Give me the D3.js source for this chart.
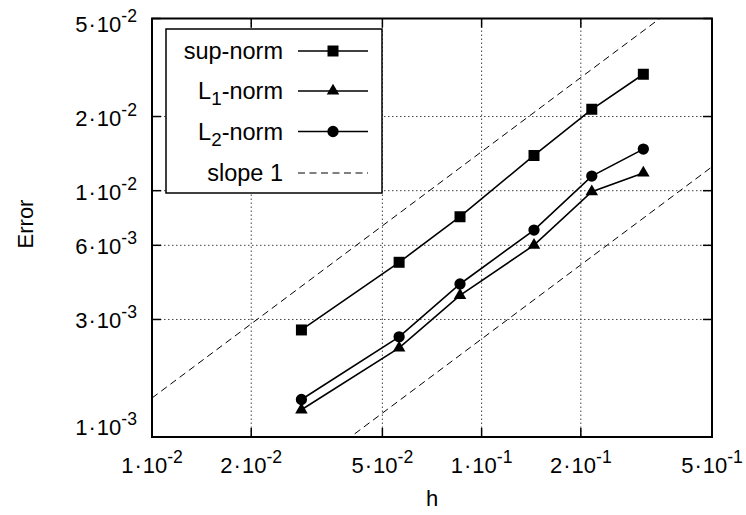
<!DOCTYPE html>
<html>
<head>
<meta charset="utf-8">
<script src="https://cdn.jsdelivr.net/npm/d3@7"></script>
<style>
  body { margin: 0; background: #fff; }
  text { font-family: "Liberation Sans", Arial, sans-serif; fill: #000; }
</style>
</head>
<body>
<script>
// mesh sizes and errors
var hVals   = [0.0284, 0.0562, 0.0860, 0.1442, 0.2159, 0.3095];
var supNorm = [2.72e-3, 5.12e-3, 7.84e-3, 1.39e-2, 2.14e-2, 2.97e-2];
var l1Norm  = [1.29e-3, 2.30e-3, 3.76e-3, 6.01e-3, 9.90e-3, 1.18e-2];
var l2Norm  = [1.42e-3, 2.55e-3, 4.18e-3, 6.92e-3, 1.146e-2, 1.475e-2];
var slopeCoefs = [0.144, 0.025];   // error = c * h

var xTicks = [0.01, 0.02, 0.05, 0.1, 0.2, 0.5];
var xTickLabels = ["1·10^-2", "2·10^-2", "5·10^-2", "1·10^-1", "2·10^-1", "5·10^-1"];
var yTicks = [1e-3, 3e-3, 6e-3, 1e-2, 2e-2, 5e-2];
var yTickLabels = ["1·10^-3", "3·10^-3", "6·10^-3", "1·10^-2", "2·10^-2", "5·10^-2"];

var seriesNames = ["sup-norm", "L_1-norm", "L_2-norm", "slope 1"];

var W = 746, H = 515;
var pLeft = 152, pRight = 712, pTop = 18.5, pBottom = 437;
var fs = 22, legFs = 23.5;

var x = d3.scaleLog().domain([0.01, 0.5]).range([pLeft, pRight]);
var y = d3.scaleLog().domain([1e-3, 5e-2]).range([pBottom, pTop]);

var svg = d3.select("body").append("svg")
    .attr("width", W).attr("height", H);

svg.append("defs").append("clipPath").attr("id", "plotclip")
  .append("rect")
    .attr("x", pLeft).attr("y", pTop)
    .attr("width", pRight - pLeft).attr("height", pBottom - pTop);

// grid
var grid = svg.append("g")
    .attr("stroke", "#444").attr("stroke-width", 1)
    .attr("stroke-dasharray", "1.5,2.5");
grid.selectAll("line.gx")
  .data(xTicks.slice(1, -1))
  .enter().append("line")
    .attr("x1", d => x(d)).attr("x2", d => x(d))
    .attr("y1", pTop).attr("y2", pBottom);
grid.selectAll("line.gy")
  .data(yTicks.slice(1, -1))
  .enter().append("line")
    .attr("y1", d => y(d)).attr("y2", d => y(d))
    .attr("x1", pLeft).attr("x2", pRight);

// ticks (inside, mirrored)
var tl = 9;
var ticks = svg.append("g").attr("stroke", "#000").attr("stroke-width", 1.5);
xTicks.forEach(function (d) {
  ticks.append("line").attr("x1", x(d)).attr("x2", x(d)).attr("y1", pBottom).attr("y2", pBottom - tl);
  ticks.append("line").attr("x1", x(d)).attr("x2", x(d)).attr("y1", pTop).attr("y2", pTop + tl);
});
yTicks.forEach(function (d) {
  ticks.append("line").attr("y1", y(d)).attr("y2", y(d)).attr("x1", pLeft).attr("x2", pLeft + tl);
  ticks.append("line").attr("y1", y(d)).attr("y2", y(d)).attr("x1", pRight).attr("x2", pRight - tl);
});

// tick labels with superscript exponent
function expLabel(sel, str) {
  var parts = str.split("^");
  var m = parts[0].split("·");
  sel.append("tspan").text(m[0]);
  sel.append("tspan").attr("dx", 1).text("·");
  sel.append("tspan").attr("dx", 1).text(m[1]);
  sel.append("tspan").attr("dy", -10).attr("font-size", fs * 0.8).text(parts[1]);
}

xTicks.forEach(function (d, i) {
  var t = svg.append("text")
      .attr("x", x(d)).attr("y", 473)
      .attr("text-anchor", "middle").attr("font-size", fs);
  expLabel(t, xTickLabels[i]);
});

var yShift = { 0: -11, 5: 4 };
yTicks.forEach(function (d, i) {
  var t = svg.append("text")
      .attr("x", 137).attr("y", y(d) + 9 + (yShift[i] || 0))
      .attr("text-anchor", "end").attr("font-size", fs);
  expLabel(t, yTickLabels[i]);
});

// axis titles
svg.append("text")
    .attr("x", (pLeft + pRight) / 2).attr("y", 506)
    .attr("text-anchor", "middle").attr("font-size", fs)
    .text("h");
svg.append("text")
    .attr("transform", "translate(33,224) rotate(-90)")
    .attr("text-anchor", "middle").attr("font-size", fs)
    .text("Error");

// slope-1 reference lines
var plot = svg.append("g").attr("clip-path", "url(#plotclip)");
slopeCoefs.forEach(function (c) {
  plot.append("path")
      .datum([0.01, 0.5])
      .attr("fill", "none").attr("stroke", "#000").attr("stroke-width", 1)
      .attr("stroke-dasharray", "7,4.5")
      .attr("d", d3.line().x(d => x(d)).y(d => y(c * d)));
});

// data series
var series = [
  { vals: supNorm, sym: d3.symbolSquare, size: 121 },
  { vals: l1Norm,  sym: d3.symbolTriangle, size: 68 },
  { vals: l2Norm,  sym: d3.symbolCircle, size: 100 }
];
var line = d3.line().x(d => x(d[0])).y(d => y(d[1]));
series.forEach(function (s) {
  var pts = hVals.map((h, i) => [h, s.vals[i]]);
  plot.append("path")
      .datum(pts)
      .attr("fill", "none").attr("stroke", "#000").attr("stroke-width", 1.6)
      .attr("d", line);
  plot.selectAll(null)
      .data(pts)
      .enter().append("path")
      .attr("transform", d => "translate(" + x(d[0]) + "," + y(d[1]) + ")")
      .attr("d", d3.symbol().type(s.sym).size(s.size))
      .attr("fill", "#000");
});

// frame
svg.append("rect")
    .attr("x", pLeft).attr("y", pTop)
    .attr("width", pRight - pLeft).attr("height", pBottom - pTop)
    .attr("fill", "none").attr("stroke", "#000").attr("stroke-width", 2);

// legend
var lg = svg.append("g");
lg.append("rect")
    .attr("x", 166).attr("y", 29).attr("width", 216).attr("height", 164)
    .attr("fill", "#fff").attr("stroke", "#000").attr("stroke-width", 1.5);
var rowY = [51, 91, 131.5, 173];
seriesNames.forEach(function (name, i) {
  var yy = rowY[i];
  var t = lg.append("text")
      .attr("x", 283).attr("y", yy + 8)
      .attr("text-anchor", "end").attr("font-size", legFs);
  var p = name.split("_");
  if (p.length > 1) {
    t.append("tspan").text(p[0]);
    t.append("tspan").attr("dy", 6).attr("font-size", legFs * 0.8).text(p[1].charAt(0));
    t.append("tspan").attr("dy", -6).text(p[1].slice(1));
  } else {
    t.text(name);
  }
  var ln = lg.append("line")
      .attr("x1", 298).attr("x2", 368).attr("y1", yy).attr("y2", yy)
      .attr("stroke", "#000");
  if (i < 3) {
    ln.attr("stroke-width", 1.6);
    lg.append("path")
        .attr("transform", "translate(333," + yy + ")")
        .attr("d", d3.symbol().type(series[i].sym).size(series[i].size))
        .attr("fill", "#000");
  } else {
    ln.attr("stroke-width", 1).attr("stroke-dasharray", "7,4.5");
  }
});
</script>
</body>
</html>
